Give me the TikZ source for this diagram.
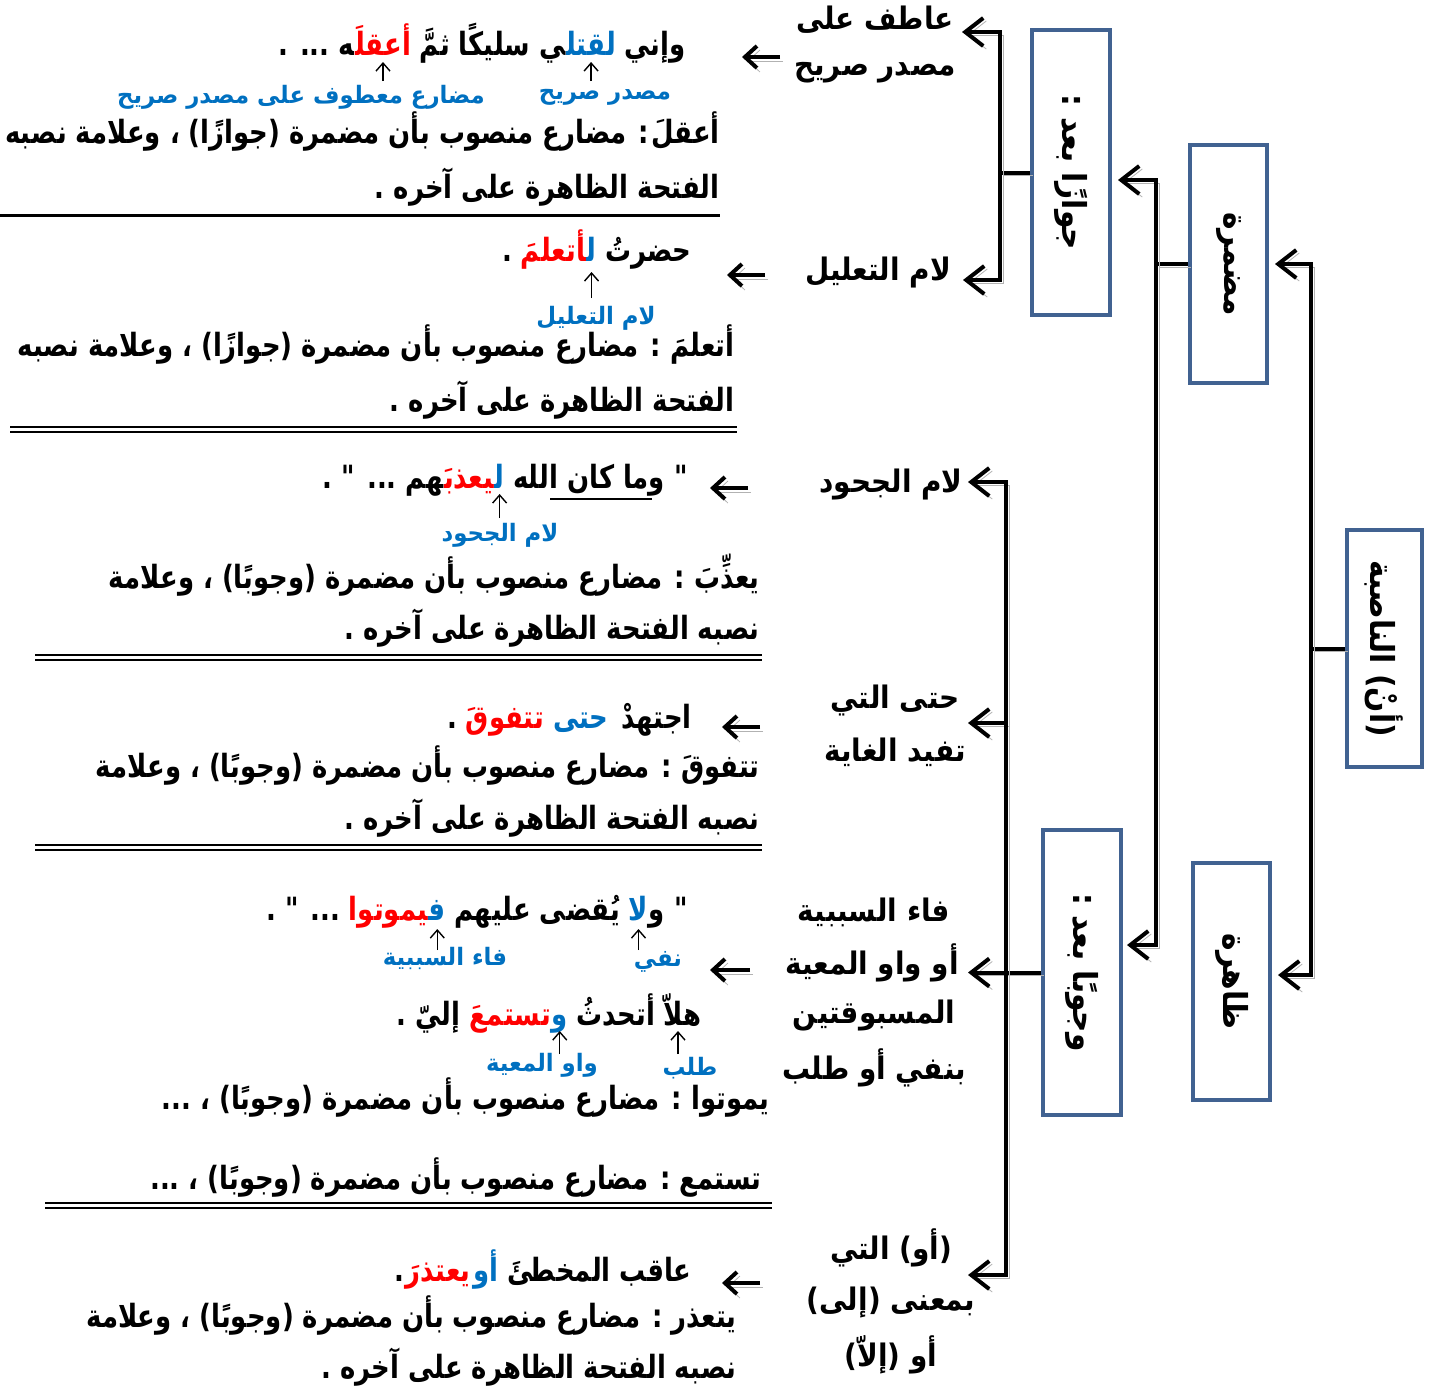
\documentclass[tikz,border=0pt]{standalone}
\usepackage{fontspec}
\usetikzlibrary{arrows.meta}
\newfontfamily\arfont[Script=Arabic,FakeStretch=0.9]{DejaVu Sans}
\newfontfamily\arfontn[Script=Arabic,FakeStretch=0.81]{DejaVu Sans}
\newfontfamily\arfontm[Script=Arabic,FakeStretch=0.95]{DejaVu Sans}
\TeXXeTstate=1
\definecolor{boxcol}{RGB}{65,98,145}
\definecolor{blu}{RGB}{0,112,192}
\definecolor{redc}{RGB}{255,0,0}
\newcommand\zj{^^^^200d}
\tikzset{
  catbox/.style={draw=boxcol, line width=2pt, inner sep=0pt, fill=white},
  boxtxt/.style={rotate=-90, inner sep=0pt, font=\arfont\bfseries\fontsize{16.5}{19}\selectfont},
  ex/.style={inner sep=0pt, anchor=east, font=\arfontn\bfseries\fontsize{16}{19}\selectfont},
  pc/.style={inner sep=0pt, anchor=base east, font=\arfontn\bfseries\fontsize{16}{19}\selectfont},
  lab/.style={inner sep=0pt, font=\arfont\bfseries\fontsize{15.5}{18}\selectfont},
  note/.style={inner sep=0pt, text=blu, font=\arfontm\bfseries\fontsize{12}{14}\selectfont},
  shadowed/.style={preaction={draw=black!30, transform canvas={shift={(1.5pt,-1.5pt)}}}},
  conn/.style={line width=2pt, shadowed},
  arr/.style={line width=2pt, -{Straight Barb[length=9pt,width=14pt]},
     preaction={draw=black!30, -{Straight Barb[length=9pt,width=14pt]}, transform canvas={shift={(1.5pt,-1.5pt)}}}},
  sarr/.style={line width=2pt, -{Straight Barb[length=6pt,width=11pt]},
     preaction={draw=black!30, -{Straight Barb[length=6pt,width=11pt]}, transform canvas={shift={(1.5pt,-2pt)}}}},
  uparr/.style={line width=0.7pt, -{Straight Barb[length=4pt,width=7pt]}},
  rulestyle/.style={line width=1pt},
}
\begin{document}
\begin{tikzpicture}[x=0.5pt,y=-0.5pt]
\useasboundingbox (0,0) rectangle (1430,1389);

% ---------- category boxes ----------
\node[catbox, minimum width=37.5pt, minimum height=118.5pt] (nas) at (1384.5,648.5) {};
\node[boxtxt] (nasT) at (nas) {\beginR (أنْ) الناصبة\endR};
\node[catbox, minimum width=38.5pt, minimum height=119pt] (mud) at (1228.5,264) {};
\node[boxtxt] (mudT) at (mud) {\beginR مضمرة\endR};
\node[catbox, minimum width=38.5pt, minimum height=118.5pt] (zah) at (1231.5,981.5) {};
\node[boxtxt] (zahT) at (zah) {\beginR ظاهرة\endR};
\node[catbox, minimum width=39pt, minimum height=142.5pt] (jaw) at (1071,172.5) {};
\node[boxtxt] (jawT) at (jaw) {\beginR جوازًا بعد :\endR};
\node[catbox, minimum width=39pt, minimum height=142.5pt] (wuj) at (1082,972.5) {};
\node[boxtxt] (wujT) at (wuj) {\beginR وجوبًا بعد :\endR};

% ---------- right labels ----------
\node[lab] (r1a) at (875,20) {\beginR عاطف على\endR};
\node[lab] (r1b) at (875,73) {\beginR مصدر صريح\endR};
\node[lab] (r2) at (878,272) {\beginR لام التعليل\endR};
\node[lab] (r3) at (891,484) {\beginR لام الجحود\endR};
\node[lab] (r4a) at (895,700) {\beginR حتى التي\endR};
\node[lab] (r4b) at (895,752) {\beginR تفيد الغاية\endR};
\node[lab] (r5a) at (874,912) {\beginR فاء السببية\endR};
\node[lab] (r5b) at (872,963) {\beginR أو واو المعية\endR};
\node[lab] (r5c) at (874,1015) {\beginR المسبوقتين\endR};
\node[lab] (r5d) at (874,1068) {\beginR بنفي أو طلب\endR};
\node[lab] (r6a) at (891,1248) {\beginR (أو) التي\endR};
\node[lab] (r6b) at (891,1302) {\beginR بمعنى (إلى)\endR};
\node[lab] (r6c) at (891,1355) {\beginR أو (إلاّ)\endR};

% ---------- tree connectors ----------
\coordinate (j1) at (1311,648.5);
\coordinate (tA) at (1275,264);
\coordinate (tB) at (1278,975);
\draw[conn] (nas.west) -- (j1);
\draw[arr] (j1) |- (tA);
\draw[arr] (j1) |- (tB);

\coordinate (j2) at (1156,264);
\coordinate (tC) at (1118,180);
\coordinate (tD) at (1127,945);
\draw[conn] (mud.west) -- (j2);
\draw[arr] (j2) |- (tC);
\draw[arr] (j2) |- (tD);

\coordinate (j3) at (1000,172.5);
\coordinate (tE) at (962,32);
\coordinate (tF) at (963,280);
\draw[conn] (jaw.west) -- (j3);
\draw[arr] (j3) |- (tE);
\draw[arr] (j3) |- (tF);

\coordinate (j4) at (1006,972.5);
\coordinate (tG) at (968,482);
\coordinate (tH) at (968,723);
\coordinate (tI) at (968,972.5);
\coordinate (tJ) at (968,1275);
\draw[conn] (wuj.west) -- (j4);
\draw[arr] (j4) |- (tG);
\draw[arr] (j4) |- (tH);
\draw[arr] (j4) -- (tI);
\draw[arr] (j4) |- (tJ);

% ---------- arrow levels ----------
\coordinate (y80) at (0,81);   \coordinate (y60) at (0,62);
\coordinate (y296) at (0,298); \coordinate (y270) at (0,272);
\coordinate (y516) at (0,518); \coordinate (y492) at (0,494);
\coordinate (y950) at (0,950); \coordinate (y928) at (0,929);
\coordinate (y1052) at (0,1054); \coordinate (y1030) at (0,1031);

% ---------- section 1 ----------
\node[ex] (e1a) at (686,47) {وإني};
\node[pc, text=blu] (e1b) at ([xshift=-4pt]e1a.base west) {لقتل\zj};
\node[pc] (e1c) at (e1b.base west) {\beginR\zj ي سليكًا ثمَّ\endR};
\node[pc, text=redc] (e1d) at ([xshift=-4pt]e1c.base west) {أعقلَ\zj};
\node[pc] (e1e) at (e1d.base west) {\beginR\zj ه ... .\endR};
\node[note] (l1a) at (605,97) {\beginR مصدر صريح\endR};
\node[note] (l1b) at (301,97) {\beginR مضارع معطوف على مصدر صريح\endR};
\node[ex] (x1a) at (720,132) {\beginR أعقلَ\kern1pt: مضارع منصوب بأن مضمرة (جوازًا) ، وعلامة نصبه\endR};
\node[ex] (x1b) at (720,187) {\beginR الفتحة الظاهرة على آخره .\endR};
\draw[uparr] (e1b |- y80) -- (e1b |- y60);
\draw[uparr] (e1d |- y80) -- (e1d |- y60);
\draw[line width=1.5pt] (0,215) -- (720,215);

% ---------- section 2 ----------
\node[ex] (e2a) at (692,253) {حضرتُ};
\node[pc, text=blu] (e2b) at ([xshift=-4pt]e2a.base west) {ل\zj};
\node[pc, text=redc] (e2c) at (e2b.base west) {\zj أتعلمَ};
\node[pc] (e2d) at ([xshift=-4pt]e2c.base west) {.};
\node[note] (l2) at (596,318) {\beginR لام التعليل\endR};
\node[ex] (x2a) at (735,345) {\beginR أتعلمَ : مضارع منصوب بأن مضمرة (جوازًا) ، وعلامة نصبه\endR};
\node[ex] (x2b) at (735,400) {\beginR الفتحة الظاهرة على آخره .\endR};
\draw[uparr] (e2b |- y296) -- (e2b |- y270);
\draw[rulestyle] (10,427) -- (737,427);
\draw[rulestyle] (10,432) -- (737,432);

% ---------- section 3 ----------
\node[ex] (e3a) at (688,480) {\beginR " وما كان الله\endR};
\node[pc, text=blu] (e3b) at ([xshift=-4pt]e3a.base west) {ل\zj};
\node[pc, text=redc] (e3c) at (e3b.base west) {\zj يعذبَ\zj};
\node[pc] (e3d) at (e3c.base west) {\beginR\zj هم ... " .\endR};
\draw[line width=1pt] (550,499) -- (652,499);
\node[note] (l3) at (500,535) {\beginR لام الجحود\endR};
\node[ex] (x3a) at (760,575) {\beginR يعذِّبَ : مضارع منصوب بأن مضمرة (وجوبًا) ، وعلامة\endR};
\node[ex] (x3b) at (760,628) {\beginR نصبه الفتحة الظاهرة على آخره .\endR};
\draw[uparr] (e3b |- y516) -- (e3b |- y492);
\draw[rulestyle] (35,655) -- (762,655);
\draw[rulestyle] (35,660) -- (762,660);

% ---------- section 4 ----------
\node[ex] (e4a) at (692,720) {اجتهدْ};
\node[pc, text=blu] (e4b) at ([xshift=-6pt]e4a.base west) {حتى};
\node[pc, text=redc] (e4c) at ([xshift=-4pt]e4b.base west) {تتفوقَ};
\node[pc] (e4d) at ([xshift=-4pt]e4c.base west) {.};
\node[ex] (x4a) at (760,765) {\beginR تتفوقَ : مضارع منصوب بأن مضمرة (وجوبًا) ، وعلامة\endR};
\node[ex] (x4b) at (760,818) {\beginR نصبه الفتحة الظاهرة على آخره .\endR};
\draw[rulestyle] (35,845) -- (762,845);
\draw[rulestyle] (35,850) -- (762,850);

% ---------- section 5 ----------
\node[ex] (e5a1) at (688,913) {\beginR " و\endR};
\node[pc, text=blu] (e5a2) at (e5a1.base west) {لا};
\node[pc] (e5a3) at ([xshift=-4pt]e5a2.base west) {\beginR يُقضى عليهم\endR};
\node[pc, text=blu] (e5a4) at ([xshift=-4pt]e5a3.base west) {ف\zj};
\node[pc, text=redc] (e5a5) at (e5a4.base west) {\zj يموتوا};
\node[pc] (e5a6) at ([xshift=-4pt]e5a5.base west) {\beginR ... " .\endR};
\node[note] (l5a) at (658,962) {\beginR نفي\endR};
\node[note] (l5b) at (445,958) {\beginR فاء السببية\endR};
\node[ex] (e5b1) at (702,1010) {\beginR هلاّ أتحدثُ\endR};
\node[pc, text=blu] (e5b2) at ([xshift=-4pt]e5b1.base west) {و};
\node[pc, text=redc] (e5b3) at (e5b2.base west) {تستمعَ};
\node[pc] (e5b4) at ([xshift=-4pt]e5b3.base west) {\beginR إليّ .\endR};
\node[note] (l5c) at (690,1068) {\beginR طلب\endR};
\node[note] (l5d) at (542,1065) {\beginR واو المعية\endR};
\node[ex] (x5a) at (770,1097) {\beginR يموتوا : مضارع منصوب بأن مضمرة (وجوبًا) ، ...\endR};
\node[ex] (x5b) at (762,1177) {\beginR تستمع : مضارع منصوب بأن مضمرة (وجوبًا) ، ...\endR};
\coordinate (hx) at (678,0);
\draw[uparr] (e5a2 |- y950) -- (e5a2 |- y928);
\draw[uparr] (e5a4 |- y950) -- (e5a4 |- y928);
\draw[uparr] (hx |- y1052) -- (hx |- y1030);
\draw[uparr] (e5b2 |- y1052) -- (e5b2 |- y1030);
\draw[rulestyle] (45,1203) -- (772,1203);
\draw[rulestyle] (45,1208) -- (772,1208);

% ---------- section 6 ----------
\node[ex] (e6a) at (692,1272) {\beginR عاقب المخطئَ\endR};
\node[pc, text=blu] (e6b) at ([xshift=-4pt]e6a.base west) {أو};
\node[pc, text=redc] (e6c) at ([xshift=-1pt]e6b.base west) {يعتذرَ};
\node[pc] (e6d) at (e6c.base west) {.};
\node[ex] (x6a) at (737,1315) {\beginR يتعذر : مضارع منصوب بأن مضمرة (وجوبًا) ، وعلامة\endR};
\node[ex] (x6b) at (737,1367) {\beginR نصبه الفتحة الظاهرة على آخره .\endR};

% ---------- small pointer arrows ----------
\coordinate (p1s) at (780,57);   \coordinate (p1e) at (742,57);
\coordinate (p2s) at (765,275);  \coordinate (p2e) at (727,275);
\coordinate (p3s) at (748,488);  \coordinate (p3e) at (710,488);
\coordinate (p4s) at (760,727);  \coordinate (p4e) at (722,727);
\coordinate (p5s) at (750,970);  \coordinate (p5e) at (710,970);
\coordinate (p6s) at (760,1283); \coordinate (p6e) at (722,1283);
\draw[sarr] (p1s) -- (p1e);
\draw[sarr] (p2s) -- (p2e);
\draw[sarr] (p3s) -- (p3e);
\draw[sarr] (p4s) -- (p4e);
\draw[sarr] (p5s) -- (p5e);
\draw[sarr] (p6s) -- (p6e);
\end{tikzpicture}
\end{document}
